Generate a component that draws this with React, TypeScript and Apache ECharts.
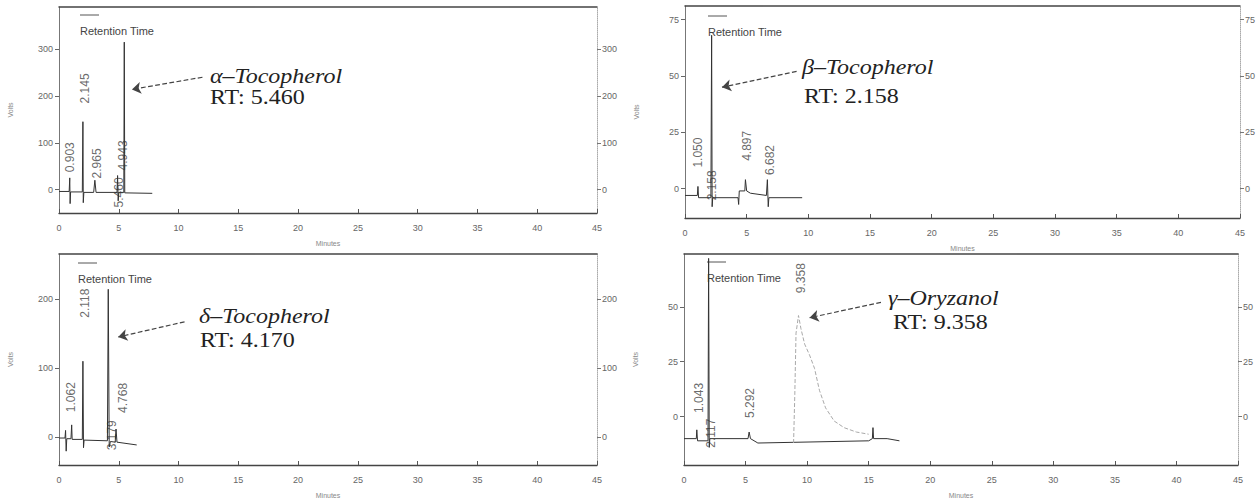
import React, { useEffect, useRef } from "react";
import * as echarts from "echarts";

// ---------- data (minutes, volts) ----------
const alphaTrace: [number, number][] = [
  [0, -4], [0.85, -4], [0.9, 25], [0.93, -30], [0.97, -5], [1.95, -5], [2.0, 145], [2.03, -28],
  [2.08, -6], [2.9, -6], [3.0, 20], [3.1, -6], [4.85, -6], [4.9, 30], [4.95, -24], [5.0, -6],
  [5.42, -6], [5.46, 315], [5.5, -7], [7.8, -8],
];
const betaTrace: [number, number][] = [
  [0, -3], [1.0, -3], [1.05, 1], [1.1, -4], [2.1, -4], [2.16, 68], [2.2, -8], [2.25, -4],
  [4.3, -4], [4.35, -7], [4.4, -1], [4.85, -1], [4.9, 4], [5.0, -1], [5.3, -2], [6.6, -3],
  [6.68, 4], [6.75, -8], [6.8, -4], [9.5, -4],
];
const deltaTrace: [number, number][] = [
  [0, -1], [0.5, -1], [0.55, 10], [0.6, -20], [0.65, -2], [1.0, -2], [1.06, 18], [1.1, -3],
  [1.95, -3], [2.0, 110], [2.05, -15], [2.1, -4], [4.05, -5], [4.12, 214], [4.2, -14], [4.3, -6],
  [4.7, -7], [4.77, 12], [4.85, -7], [6.5, -11],
];
const oryzanolBaseline: [number, number][] = [
  [0, -10], [1.0, -10], [1.04, -6], [1.1, -11], [1.95, -11], [2.0, 72], [2.05, -14], [2.1, -10],
  [5.2, -10], [5.29, -7], [5.4, -10], [6.0, -12], [15.0, -11], [15.3, -10], [15.35, -5],
  [15.4, -10], [16.5, -10], [17.5, -11],
];
const oryzanolPeak: [number, number][] = [
  [8.9, -12], [9.0, 10], [9.1, 38], [9.3, 46], [9.5, 40], [9.8, 33], [10.2, 28], [10.6, 22],
  [11.0, 12], [11.5, 4], [12.2, -2], [13.0, -5], [14.0, -7], [15.0, -8],
];

const alphaPeakLabels: [number, number, string][] = [
  [0.92, 69, "0.903"], [2.17, 216, "2.145"], [3.18, 56, "2.965"], [5.35, 73, "4.943"], [5.0, -6, "5.460"],
];
const betaPeakLabels: [number, number, string][] = [
  [1.05, 16, "1.050"], [2.18, 1.5, "2.158"], [5.0, 19, "4.897"], [6.87, 12.7, "6.682"],
];
const deltaPeakLabels: [number, number, string][] = [
  [1.0, 58, "1.062"], [2.17, 194, "2.118"], [5.35, 57, "4.768"], [4.43, 3, "3.179"],
];
const oryzanolPeakLabels: [number, number, string][] = [
  [1.21, 8.5, "1.043"], [2.18, -7.5, "2.117"], [5.4, 6.2, "5.292"], [9.5, 63, "9.358"],
];

const alphaArrow: [number, number][] = [[12.0, 240], [6.1, 214]];
const betaArrow: [number, number][] = [[9.05, 52], [3.0, 45]];
const deltaArrow: [number, number][] = [[10.5, 167], [4.95, 145]];
const oryzanolArrow: [number, number][] = [[16.0, 52], [10.2, 45]];

const alphaTicks = [0, 100, 200, 300];
const betaTicks = [0, 25, 50, 75];
const deltaTicks = [0, 100, 200];
const oryzanolTicks = [0, 25, 50];

const compoundNames = ["α–Tocopherol", "β–Tocopherol", "δ–Tocopherol", "γ–Oryzanol"];
const retentionTexts = ["RT: 5.460", "RT: 2.158", "RT: 4.170", "RT: 9.358"];

// ---------- layout ----------
const panels = [
  { trace: alphaTrace, labels: alphaPeakLabels, arrow: alphaArrow, ticks: alphaTicks, yMin: -50, yMax: 390,
    grid: { left: 59, top: 7, width: 538, height: 206 },
    nameAt: [210, 76], rtAt: [210, 97], legAt: [80, 15] },
  { trace: betaTrace, labels: betaPeakLabels, arrow: betaArrow, ticks: betaTicks, yMin: -13, yMax: 81,
    grid: { left: 685, top: 6, width: 557, height: 212 },
    nameAt: [802, 67], rtAt: [804, 96], legAt: [708, 16] },
  { trace: deltaTrace, labels: deltaPeakLabels, arrow: deltaArrow, ticks: deltaTicks, yMin: -40, yMax: 265,
    grid: { left: 59, top: 254, width: 538, height: 211 },
    nameAt: [199, 316], rtAt: [200, 340], legAt: [78, 263] },
  { trace: oryzanolBaseline, labels: oryzanolPeakLabels, arrow: oryzanolArrow, ticks: oryzanolTicks, yMin: -22, yMax: 74,
    grid: { left: 684, top: 254, width: 554, height: 211 },
    nameAt: [888, 298], rtAt: [893, 322], legAt: [707, 262] },
];

const SANS = '"Liberation Sans", Arial, sans-serif';
const SERIF = '"Liberation Serif", "Times New Roman", serif';

export default function App() {
  const ref = useRef<HTMLDivElement>(null);

  useEffect(() => {
    if (!ref.current) return;
    const chart = echarts.init(ref.current, undefined, { renderer: "svg" });

    const grid = panels.map((p) => ({ ...p.grid, show: false }));

    const xBottom = panels.map((_, i) => ({
      type: "value", gridIndex: i, position: "bottom", min: 0, max: 45, interval: 5,
      axisLine: { show: true, onZero: false, lineStyle: { color: "#444", width: 1.3 } },
      axisTick: { show: true, inside: true, length: 4, lineStyle: { color: "#555" } },
      axisLabel: { color: "#666", fontSize: 9, margin: 10, fontFamily: SANS },
      splitLine: { show: false },
      name: "Minutes", nameLocation: "middle", nameGap: 27,
      nameTextStyle: { fontSize: 7, color: "#888", fontFamily: SANS },
    }));
    const xTop = panels.map((_, i) => ({
      type: "value", gridIndex: i, position: "top", min: 0, max: 45,
      axisLine: { show: true, onZero: false, lineStyle: { color: "#444", width: 1.5 } },
      axisTick: { show: false }, axisLabel: { show: false }, splitLine: { show: false },
    }));
    const yLeft = panels.map((p, i) => ({
      type: "value", gridIndex: i, position: "left", min: p.yMin, max: p.yMax,
      axisLine: { show: true, onZero: false, lineStyle: { color: "#777", width: 1 } },
      axisTick: { show: true, length: 4, customValues: p.ticks, lineStyle: { color: "#666" } },
      axisLabel: { customValues: p.ticks, color: "#666", fontSize: 9, margin: 6, fontFamily: SANS },
      splitLine: { show: false },
      name: "Volts", nameLocation: "middle", nameGap: 45,
      nameTextStyle: { fontSize: 7, color: "#888", fontFamily: SANS },
    }));
    const yRight = panels.map((p, i) => ({
      type: "value", gridIndex: i, position: "right", min: p.yMin, max: p.yMax,
      axisLine: { show: true, onZero: false, lineStyle: { color: "#aaa", width: 1, type: "dotted" } },
      axisTick: { show: true, length: 4, customValues: p.ticks, lineStyle: { color: "#777" } },
      axisLabel: { customValues: p.ticks, color: "#666", fontSize: 9, margin: 5, fontFamily: SANS },
      splitLine: { show: false },
    }));

    const series: any[] = [];
    panels.forEach((p, i) => {
      series.push({
        type: "line", name: "Retention Time", xAxisIndex: i, yAxisIndex: i, data: p.trace,
        symbol: "none", showSymbol: false, lineStyle: { color: "#333", width: 1 }, silent: true,
      });
      series.push({
        type: "scatter", name: "labels" + i, xAxisIndex: i, yAxisIndex: i, data: p.labels,
        symbolSize: 1, itemStyle: { color: "transparent" }, silent: true,
        label: {
          show: true, position: "inside", rotate: 90, formatter: (v: any) => v.value[2],
          fontSize: 12, color: "#444", fontFamily: SANS,
        },
        markLine: {
          silent: true, symbol: ["none", "arrow"], symbolSize: 9,
          lineStyle: { type: "dashed", color: "#444", width: 1.2 },
          label: { show: false },
          data: [[{ coord: p.arrow[0] }, { coord: p.arrow[1] }]],
        },
      });
    });
    series.push({
      type: "line", name: "Signal", xAxisIndex: 3, yAxisIndex: 3, data: oryzanolPeak,
      symbol: "none", showSymbol: false, silent: true,
      lineStyle: { color: "#aaa", width: 1, type: "dashed" },
    });

    const graphic: any[] = [];
    panels.forEach((p, i) => {
      graphic.push({
        type: "text", x: p.nameAt[0], y: p.nameAt[1], scaleX: 1.2, silent: true,
        style: { text: compoundNames[i], fontSize: 20, fontStyle: "italic", fontFamily: SERIF,
          fill: "#222", verticalAlign: "middle", align: "left" },
      });
      graphic.push({
        type: "text", x: p.rtAt[0], y: p.rtAt[1], scaleX: 1.2, silent: true,
        style: { text: retentionTexts[i], fontSize: 20, fontFamily: SERIF,
          fill: "#222", verticalAlign: "middle", align: "left" },
      });
      graphic.push({
        type: "line", silent: true,
        shape: { x1: p.legAt[0], y1: p.legAt[1], x2: p.legAt[0] + 19, y2: p.legAt[1] },
        style: { stroke: "#555", lineWidth: 1 },
      });
      graphic.push({
        type: "text", x: p.legAt[0], y: p.legAt[1] + 16, silent: true,
        style: { text: "Retention Time", fontSize: 11, fontFamily: SANS, fill: "#444",
          verticalAlign: "middle", align: "left" },
      });
    });

    chart.setOption({
      animation: false,
      backgroundColor: "#ffffff",
      grid,
      xAxis: [...xBottom, ...xTop],
      yAxis: [...yLeft, ...yRight],
      series,
      graphic,
    } as any);

    return () => chart.dispose();
  }, []);

  return (
    <div
      ref={ref}
      style={{ position: "fixed", left: 0, top: 0, width: 1258, height: 502, background: "#fff" }}
    />
  );
}
